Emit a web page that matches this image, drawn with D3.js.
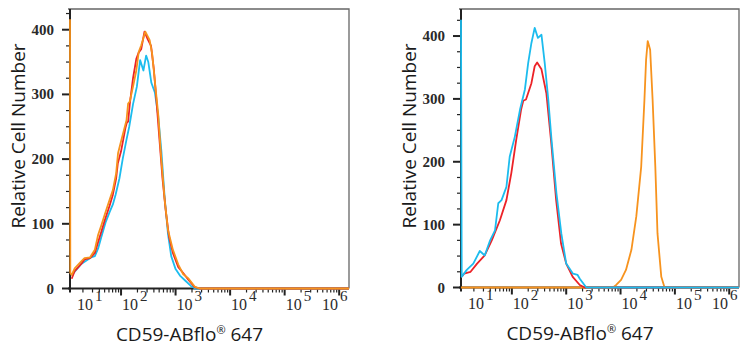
<!DOCTYPE html>
<html>
<head>
<meta charset="utf-8">
<script src="https://cdn.jsdelivr.net/npm/d3@7"></script>
<style>
  body { margin: 0; background: #fff; }
  svg { display: block; }
  .tick-lbl { font-family: "Liberation Serif", "DejaVu Serif", serif; fill: #2a2a2a; }
  .title { font-family: "Open Sans", "Noto Sans", sans-serif; fill: #1a1a1a; }
</style>
</head>
<body>
<div id="chart"></div>
<script>
// values on the x axis are log10 of fluorescence (CD59-ABflo 647)
// left panel
const leftBlue = [
  [1.095, 20], [1.15, 26], [1.21, 32], [1.27, 38], [1.38, 44], [1.45, 48], [1.52, 50],
  [1.58, 62], [1.64, 80], [1.72, 103], [1.79, 118], [1.85, 130], [1.90, 145], [1.97, 170],
  [2.03, 200], [2.10, 230], [2.15, 250], [2.22, 285], [2.29, 312], [2.35, 353], [2.41, 337],
  [2.46, 360], [2.50, 350], [2.556, 318], [2.62, 303], [2.68, 268], [2.74, 212], [2.80, 140],
  [2.86, 85], [2.92, 50], [3.0, 30], [3.08, 20], [3.18, 12], [3.28, 4], [3.36, 0], [6.18, 0]
];
const leftRed = [
  [1.095, 15], [1.15, 27], [1.27, 38], [1.33, 45], [1.43, 47], [1.52, 55], [1.58, 72],
  [1.64, 88], [1.70, 105], [1.79, 128], [1.85, 145], [1.91, 170], [1.94, 193], [2.0, 212],
  [2.08, 248], [2.105, 256], [2.13, 258], [2.16, 285], [2.22, 325], [2.28, 355], [2.325, 365],
  [2.37, 370], [2.43, 397], [2.49, 385], [2.55, 375], [2.60, 340], [2.65, 290], [2.70, 235],
  [2.76, 170], [2.82, 120], [2.88, 80], [2.95, 55], [3.05, 33], [3.14, 24], [3.23, 14],
  [3.35, 2], [3.44, 0], [6.18, 0]
];
const leftOrange = [
  [1.064, 416], [1.07, 24], [1.095, 21], [1.15, 31], [1.27, 42], [1.33, 47], [1.43, 48],
  [1.52, 60], [1.58, 83], [1.64, 98], [1.70, 114], [1.79, 137], [1.85, 152], [1.91, 178],
  [1.945, 209], [2.005, 229], [2.10, 260], [2.13, 286], [2.16, 289], [2.22, 312], [2.28, 337],
  [2.325, 366], [2.37, 376], [2.445, 397], [2.525, 384], [2.57, 363], [2.63, 312], [2.68, 271],
  [2.73, 209], [2.80, 137], [2.86, 91], [2.95, 60], [3.05, 37], [3.14, 22], [3.23, 16],
  [3.35, 3], [3.44, 0], [6.18, 0]
];
// right panel
const rightOrange = [
  [1.064, 0], [3.86, 0], [3.92, 4], [4.01, 12], [4.10, 28], [4.20, 60], [4.29, 113],
  [4.38, 192], [4.44, 299], [4.47, 362], [4.50, 392], [4.545, 378], [4.59, 299], [4.64, 192],
  [4.68, 86], [4.75, 17], [4.81, 0], [6.18, 0]
];
const rightRed = [
  [1.077, 17], [1.12, 22], [1.24, 25], [1.36, 38], [1.50, 51], [1.63, 75], [1.78, 107],
  [1.90, 139], [1.99, 182], [2.08, 235], [2.17, 283], [2.21, 297], [2.26, 299], [2.36, 325],
  [2.42, 352], [2.465, 358], [2.545, 347], [2.635, 309], [2.725, 230], [2.815, 139],
  [2.905, 70], [3.00, 38], [3.12, 17], [3.25, 4], [3.34, 0], [6.18, 0]
];
const rightBlue = [
  [1.064, 426], [1.077, 17], [1.17, 28], [1.29, 38], [1.41, 58], [1.50, 51], [1.60, 75],
  [1.69, 91], [1.75, 134], [1.81, 139], [1.90, 160], [1.96, 208], [2.055, 240], [2.15, 283],
  [2.24, 315], [2.30, 357], [2.36, 389], [2.42, 413], [2.48, 397], [2.545, 402], [2.605, 357],
  [2.67, 299], [2.73, 235], [2.82, 150], [2.91, 86], [3.00, 38], [3.125, 22], [3.21, 20],
  [3.25, 14], [3.37, 0], [6.18, 0]
];

const xExpDomain = [1.064, 6.18];
const xTickExps = [1, 2, 3, 4, 5, 6];
const yTicks = [0, 100, 200, 300, 400];
const xTitle = "CD59-ABflo";
const xTitleSuffix = " 647";
const yTitle = "Relative Cell Number";

const RED = "#ec2227", ORANGE = "#f7931e", BLUE = "#1cbcee";

const W = 751, H = 350;
const svg = d3.select("#chart").append("svg").attr("width", W).attr("height", H);

function drawPanel(p) {
  const x = d3.scaleLog().domain(xExpDomain.map(e => Math.pow(10, e))).range([p.left, p.right]);
  const y = d3.scaleLinear().domain([0, p.yMax]).range([p.bottom, p.top]);
  const g = svg.append("g");

  // frame (top/right)
  g.append("path")
    .attr("d", `M${p.left - 2},${p.top}H${p.right}V${p.bottom}`)
    .attr("fill", "none").attr("stroke", "#666").attr("stroke-width", 1.3);

  // y axis
  const yMinor = d3.range(0, p.yMax, 25);
  g.append("g").selectAll("line").data(yMinor).join("line")
    .attr("x1", p.left).attr("x2", d => p.left - (d % 100 === 0 ? 8 : 4))
    .attr("y1", d => y(d)).attr("y2", d => y(d))
    .attr("stroke", "#222").attr("stroke-width", d => d % 100 === 0 ? 2 : 1.2);
  g.append("line")
    .attr("x1", p.left).attr("x2", p.left).attr("y1", p.top).attr("y2", p.bottom + 4)
    .attr("stroke", "#222").attr("stroke-width", 2);
  g.append("g").selectAll("text").data(yTicks).join("text")
    .attr("class", "tick-lbl")
    .attr("x", p.left - 16).attr("y", d => y(d) + 5)
    .attr("text-anchor", "end").attr("font-size", 15).attr("font-weight", "bold")
    .text(d => d);

  // x axis
  const isMajor = d => Math.abs(Math.log10(d) - Math.round(Math.log10(d))) < 1e-6;
  const xt = x.ticks().filter(v => v >= x.domain()[0] && v <= x.domain()[1]);
  g.append("g").selectAll("line").data(xt).join("line")
    .attr("x1", d => x(d)).attr("x2", d => x(d))
    .attr("y1", p.bottom).attr("y2", d => p.bottom + (isMajor(d) ? 7 : 4))
    .attr("stroke", "#222").attr("stroke-width", d => isMajor(d) ? 2 : 1.2);
  g.append("line")
    .attr("x1", p.left - 2).attr("x2", p.right).attr("y1", p.bottom).attr("y2", p.bottom)
    .attr("stroke", "#222").attr("stroke-width", 2);

  const lbl = g.append("g").selectAll("text").data(xTickExps).join("text")
    .attr("class", "tick-lbl")
    .attr("x", e => Math.max(p.left + 7, Math.min(p.right - 27, x(Math.pow(10, e)) + 1)))
    .attr("y", p.bottom + 21)
    .attr("font-size", 16);
  lbl.append("tspan").text("10");
  lbl.append("tspan").attr("dx", 2).attr("dy", -9).attr("font-size", 15).text(e => e);

  // curves (drawn over the axis lines, as in the original)
  const line = d3.line().x(d => x(Math.pow(10, d[0]))).y(d => y(d[1]));
  p.series.forEach(s => {
    g.append("path").datum(s.data)
      .attr("d", line)
      .attr("fill", "none").attr("stroke", s.color)
      .attr("stroke-width", 1.8).attr("stroke-linejoin", "round");
  });

  // titles
  const tx = g.append("text").attr("class", "title")
    .attr("x", (p.left + p.right) / 2 - 20).attr("y", p.bottom + 52)
    .attr("text-anchor", "middle").attr("font-size", 19);
  tx.append("tspan").text(xTitle);
  tx.append("tspan").attr("font-size", 11).attr("dy", -7).text("®");
  tx.append("tspan").attr("dy", 7).text(xTitleSuffix);

  g.append("text").attr("class", "title")
    .attr("transform", `translate(${p.left - 45},${136}) rotate(-90)`)
    .attr("text-anchor", "middle").attr("font-size", 19)
    .text(yTitle);
}

drawPanel({
  left: 70, right: 349, top: 9, bottom: 288.5, yMax: 432,
  series: [
    { data: leftBlue, color: BLUE },
    { data: leftRed, color: RED },
    { data: leftOrange, color: ORANGE }
  ]
});
drawPanel({
  left: 461, right: 739, top: 9, bottom: 287.5, yMax: 443,
  series: [
    { data: rightOrange, color: ORANGE },
    { data: rightRed, color: RED },
    { data: rightBlue, color: BLUE }
  ]
});
</script>
</body>
</html>
